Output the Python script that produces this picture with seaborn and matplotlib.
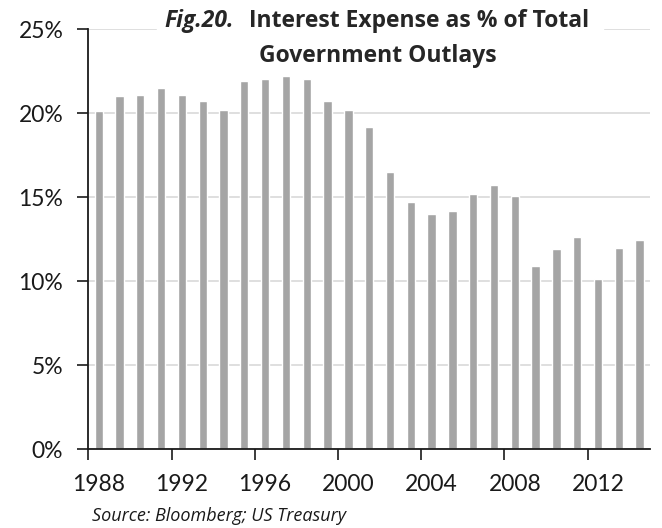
import matplotlib.pyplot as plt
import seaborn as sns
import pandas as pd
from matplotlib.patches import Rectangle

# values (% of total outlays)
years = list(range(1988, 2015))
interest_pct = [20.1, 21.0, 21.1, 21.5, 21.1, 20.7, 20.2, 21.9, 22.0, 22.2,
                22.0, 20.7, 20.2, 19.2, 16.5, 14.7, 14.0, 14.2, 15.2, 15.7,
                15.05, 10.9, 11.9, 12.6, 10.1, 12.0, 12.45]
y_ticks = [0, 5, 10, 15, 20, 25]
label_years = [1988, 1992, 1996, 2000, 2004, 2008, 2012]


def main():
    sns.set_style("white")
    plt.rcParams["font.family"] = ["Lato", "DejaVu Sans"]

    df = pd.DataFrame({"Year": [str(y) for y in years], "Pct": interest_pct})

    fig = plt.figure(figsize=(6.62, 5.28), dpi=100)
    ax = fig.add_axes([88.3 / 662, 1 - 449.3 / 528, (650 - 88.3) / 662, (449.3 - 29) / 528])

    sns.barplot(data=df, x="Year", y="Pct", order=df["Year"], color="#a5a5a5",
                width=0.4, saturation=1, ax=ax, zorder=2)

    ax.set_xlim(-0.5, len(years) - 0.5)
    ax.set_ylim(0, 25)
    ax.set_yticks(y_ticks)
    ax.set_yticklabels([f"{v}%" for v in y_ticks])
    ax.yaxis.grid(True, color="#d9d9d9", lw=1.2, zorder=0)
    ax.set_axisbelow(True)

    # labels centred on the categories, tick marks on the category edges
    pos = [years.index(y) for y in label_years]
    ax.set_xticks(pos)
    ax.set_xticklabels([str(y) for y in label_years])
    ax.set_xticks([p - 0.5 for p in pos], minor=True)
    ax.tick_params(axis="x", which="major", length=0, pad=18, labelsize=16.5, colors="#1a1a1a")
    ax.tick_params(axis="x", which="minor", length=8, width=1.2, color="#1a1a1a",
                   direction="out", bottom=True)
    ax.tick_params(axis="y", length=8, width=1.2, pad=10, labelsize=16.5,
                   color="#1a1a1a", labelcolor="#1a1a1a", direction="out", left=True)
    for lbl in ax.get_yticklabels():
        lbl.set_va("center_baseline")

    ax.set_xlabel("")
    ax.set_ylabel("")
    sns.despine(ax=ax)
    for side in ["left", "bottom"]:
        ax.spines[side].set_color("#1a1a1a")
        ax.spines[side].set_linewidth(1.3)

    # white box behind the title, hiding the top gridline
    fig.patches.append(Rectangle((157 / 662, 1 - 70 / 528), (603 - 157) / 662, 70 / 528,
                                 transform=fig.transFigure, color="white", zorder=3))
    title_font = ["Open Sans", "DejaVu Sans"]
    fig.text(164 / 662, 1 - 27 / 528, "Fig.20.", fontsize=16.5, fontweight="bold",
             fontstyle="italic", family=title_font, ha="left", va="baseline", zorder=4)
    fig.text(249 / 662, 1 - 27 / 528, "Interest Expense as % of Total", fontsize=16.5,
             fontweight="bold", family=title_font, ha="left", va="baseline", zorder=4)
    fig.text(378 / 662, 1 - 62 / 528, "Government Outlays", fontsize=16.5,
             fontweight="bold", family=title_font, ha="center", va="baseline", zorder=4)

    fig.text(92 / 662, 1 - 521 / 528, "Source: Bloomberg; US Treasury", fontsize=13,
             fontstyle="italic", family=title_font, ha="left", va="baseline", color="#1a1a1a")

    fig.savefig("out.png", dpi=100)


if __name__ == "__main__":
    main()
